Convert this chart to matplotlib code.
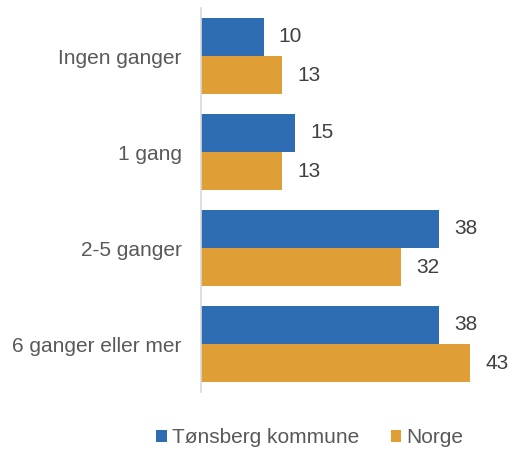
import numpy as np
import matplotlib.pyplot as plt

plt.rcParams['font.family'] = ['Liberation Sans', 'DejaVu Sans']

categories = ['Ingen ganger', '1 gang', '2-5 ganger', '6 ganger eller mer']
tonsberg = [10, 15, 38, 38]
norge = [13, 13, 32, 43]
series_names = ['Tønsberg kommune', 'Norge']

blue = '#2E6DB4'
orange = '#DF9E36'
grey_text = '#595959'

fig = plt.figure(figsize=(5.12, 4.51), dpi=100)
ax = fig.add_axes([201 / 512, 59 / 451, 312.5 / 512, 384 / 451])

y = np.arange(len(categories))
h = 0.4
b1 = ax.barh(y - h / 2, tonsberg, height=h, color=blue, label=series_names[0])
b2 = ax.barh(y + h / 2, norge, height=h, color=orange, label=series_names[1])

for bars, vals in [(b1, tonsberg), (b2, norge)]:
    for bar, v in zip(bars, vals):
        ax.annotate(str(v), (bar.get_width(), bar.get_y() + bar.get_height() / 2),
                    xytext=(11, 0), textcoords='offset points',
                    va='center', ha='left', fontsize=15, color='#404040')

ax.set_xlim(0, 50)
ax.set_ylim(3.5, -0.5)
ax.set_yticks(y)
ax.set_yticklabels(categories, fontsize=15, color=grey_text)
ax.tick_params(axis='y', length=0, pad=14)
ax.set_xticks([])
for side in ['top', 'right', 'bottom']:
    ax.spines[side].set_visible(False)
ax.spines['left'].set_color('#D9D9D9')
ax.spines['left'].set_linewidth(1.2)

leg = fig.legend(handles=[b1, b2], loc='center', bbox_to_anchor=(0.605, 0.03),
                 ncol=2, frameon=False, fontsize=15, handlelength=0.5,
                 handleheight=0.5, handletextpad=0.25, columnspacing=1.5)
for t in leg.get_texts():
    t.set_color(grey_text)

fig.savefig('out.png', dpi=100)
